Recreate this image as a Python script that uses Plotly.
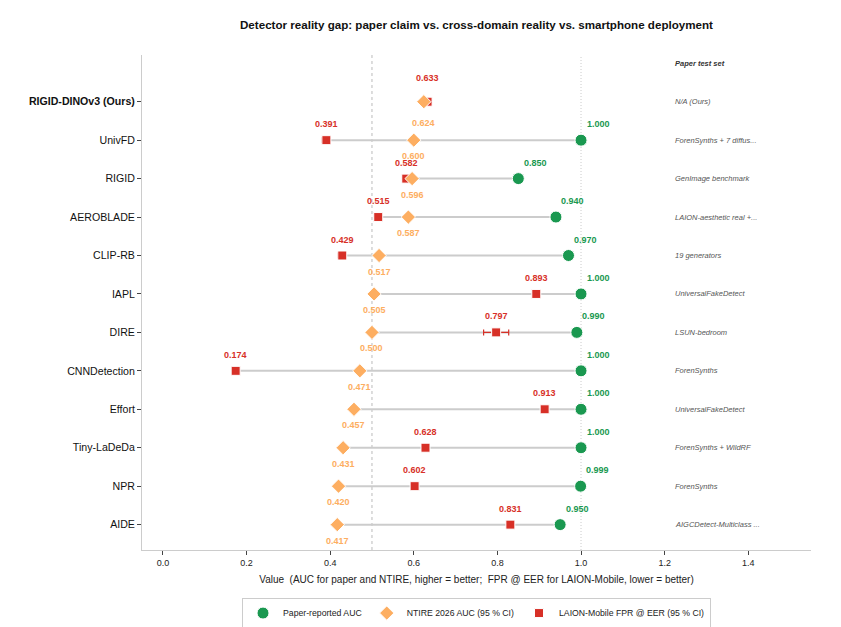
import plotly.graph_objects as go

detectors = ["RIGID-DINOv3 (Ours)", "UnivFD", "RIGID", "AEROBLADE", "CLIP-RB", "IAPL", "DIRE",
             "CNNDetection", "Effort", "Tiny-LaDeDa", "NPR", "AIDE"]
paper_auc = [None, 1.000, 0.850, 0.940, 0.970, 1.000, 0.990, 1.000, 1.000, 1.000, 0.999, 0.950]
ntire_auc = [0.624, 0.600, 0.596, 0.587, 0.517, 0.505, 0.500, 0.471, 0.457, 0.431, 0.420, 0.417]
ntire_ci = [0.008, 0.008, 0.008, 0.008, 0.008, 0.008, 0.004, 0.004, 0.008, 0.008, 0.004, 0.008]
laion_fpr = [0.633, 0.391, 0.582, 0.515, 0.429, 0.893, 0.797, 0.174, 0.913, 0.628, 0.602, 0.831]
laion_lo = [0.006, 0.010, 0.008, 0.004, 0.010, 0.004, 0.030, 0.004, 0.004, 0.004, 0.004, 0.004]
laion_hi = [0.006, 0.006, 0.004, 0.004, 0.004, 0.004, 0.030, 0.004, 0.004, 0.004, 0.004, 0.004]
test_sets = ["N/A (Ours)", "ForenSynths + 7 diffus...", "GenImage benchmark", "LAION-aesthetic real +...",
             "19 generators", "UniversalFakeDetect", "LSUN-bedroom", "ForenSynths",
             "UniversalFakeDetect", "ForenSynths + WildRF", "ForenSynths", "AIGCDetect-Multiclass ..."]

GREEN = "#1a9850"
ORANGE = "#fdae61"
RED = "#d73027"
FONT = "Liberation Sans, Arial, sans-serif"

fig = go.Figure()

# connecting gray lines
lx, ly = [], []
for d, p, n, l in zip(detectors, paper_auc, ntire_auc, laion_fpr):
    vals = [v for v in (p, n, l) if v is not None]
    lx += [min(vals), max(vals), None]
    ly += [d, d, None]
fig.add_trace(go.Scatter(x=lx, y=ly, mode="lines", line=dict(color="#cccccc", width=2),
                         showlegend=False, hoverinfo="skip"))

fig.add_trace(go.Scatter(x=paper_auc, y=detectors, mode="markers", name="Paper-reported AUC",
                         legendrank=1,
                         marker=dict(symbol="circle", size=12, color=GREEN, line=dict(color="white", width=1))))
fig.add_trace(go.Scatter(x=laion_fpr, y=detectors, mode="markers", name="LAION-Mobile FPR @ EER (95 % CI)",
                         legendrank=3,
                         error_x=dict(type="data", symmetric=False, array=laion_hi, arrayminus=laion_lo,
                                      color=RED, thickness=1.2, width=3),
                         marker=dict(symbol="square", size=9, color=RED, line=dict(color="white", width=1))))
fig.add_trace(go.Scatter(x=ntire_auc, y=detectors, mode="markers", name="NTIRE 2026 AUC (95 % CI)",
                         legendrank=2,
                         error_x=dict(type="data", array=ntire_ci, color="rgba(253,174,97,0.6)",
                                      thickness=1, width=3),
                         marker=dict(symbol="diamond", size=11, color=ORANGE, line=dict(color="white", width=1))))

ann = []
for i, (d, p, n, l, t) in enumerate(zip(detectors, paper_auc, ntire_auc, laion_fpr, test_sets)):
    up = 24 if i == 0 else 16
    down = -21 if i == 0 else -16
    if p is not None:
        ann.append(dict(x=p, y=d, text=f"<b>{p:.3f}</b>", showarrow=False, xshift=17, yshift=16,
                        font=dict(size=9, color=GREEN, family=FONT)))
    ann.append(dict(x=l, y=d, text=f"<b>{l:.3f}</b>", showarrow=False, yshift=up,
                    font=dict(size=9, color=RED, family=FONT)))
    ann.append(dict(x=n, y=d, text=f"<b>{n:.3f}</b>", showarrow=False, yshift=down,
                    font=dict(size=9, color=ORANGE, family=FONT)))
    ann.append(dict(x=1.22, y=d, text=f"<i>{t}</i>", showarrow=False, xanchor="left",
                    font=dict(size=7.5, color="#555555", family=FONT)))
ann.append(dict(x=1.22, y=-1, text="<b><i>Paper test set</i></b>", showarrow=False, xanchor="left",
                font=dict(size=7.5, color="#333333", family=FONT)))
ann.append(dict(x=0.5, y=1.0, xref="paper", yref="paper", yanchor="bottom", yshift=22,
                text="<b>Detector reality gap: paper claim vs. cross-domain reality vs. smartphone deployment</b>",
                showarrow=False, font=dict(size=11.6, color="#111111", family=FONT)))

ticktext = ["<b>RIGID-DINOv3 (Ours)</b>"] + detectors[1:]

fig.update_layout(
    width=841, height=627,
    margin=dict(l=134, r=38, t=47, b=85),
    plot_bgcolor="white", paper_bgcolor="white",
    font=dict(family=FONT, color="#222222"),
    annotations=ann,
    shapes=[
        dict(type="line", xref="x", yref="paper", x0=0.5, x1=0.5, y0=0, y1=1,
             line=dict(color="#bbbbbb", width=1, dash="3px,3px"), layer="below"),
        dict(type="line", xref="x", yref="paper", x0=1.0, x1=1.0, y0=0, y1=1,
             line=dict(color="#cccccc", width=1, dash="1px,2px"), layer="below"),
    ],
    xaxis=dict(range=[-0.05, 1.55], tickvals=[0, 0.2, 0.4, 0.6, 0.8, 1.0, 1.2, 1.4],
               ticktext=["0.0", "0.2", "0.4", "0.6", "0.8", "1.0", "1.2", "1.4"],
               showgrid=False, zeroline=False, showline=True, linecolor="#cccccc", linewidth=1,
               ticks="outside", ticklen=4, tickcolor="#444444", tickfont=dict(size=9),
               title=dict(text="Value  (AUC for paper and NTIRE, higher = better;  FPR @ EER for LAION-Mobile, lower = better)",
                          font=dict(size=10), standoff=9)),
    yaxis=dict(type="category", categoryorder="array", categoryarray=detectors,
               tickvals=detectors, ticktext=ticktext,
               range=[11.66, -1.215], showgrid=False, zeroline=False, showline=True,
               linecolor="#cccccc", linewidth=1, ticks="outside", ticklen=4, tickcolor="#444444",
               tickfont=dict(size=10.6, color="#111111")),
    legend=dict(orientation="h", x=0.5, xanchor="center", xref="paper",
                y=0.035, yanchor="middle", yref="container",
                bordercolor="#cccccc", borderwidth=1, font=dict(size=8.7), itemwidth=30),
)

fig.write_html("out.html")
